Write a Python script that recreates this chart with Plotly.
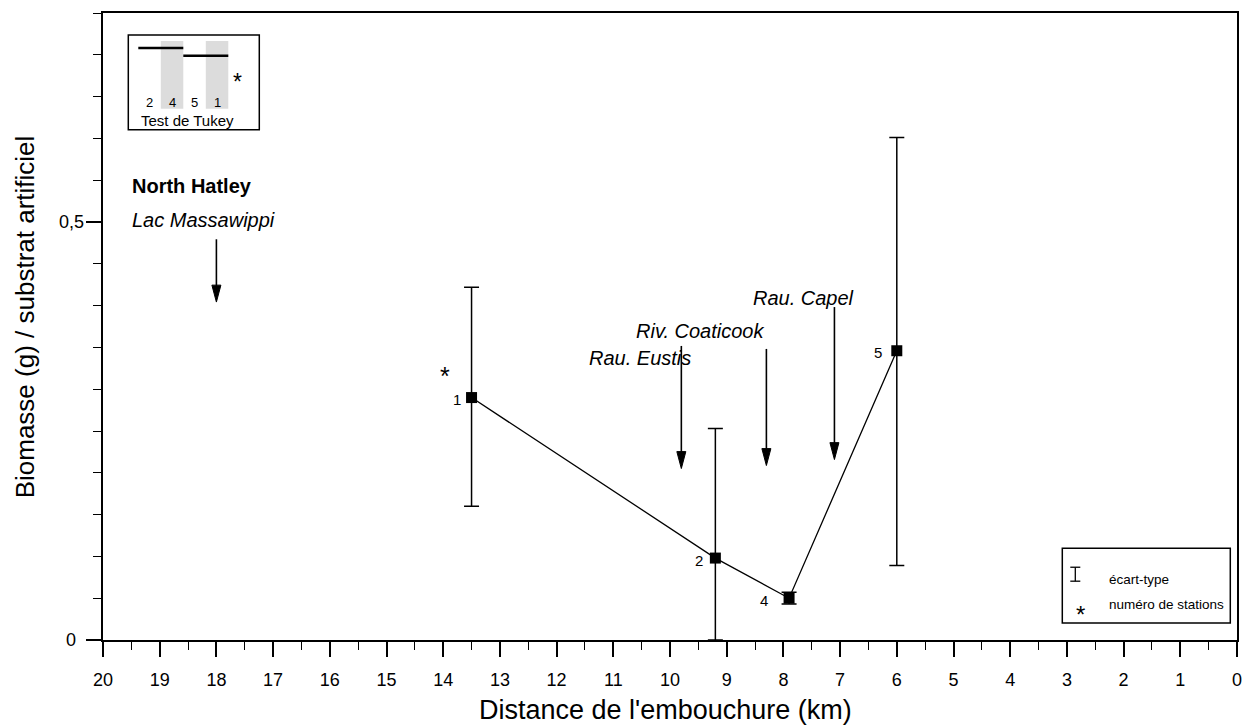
import plotly.graph_objects as go

# ---------------- data ----------------
stations = ["1", "2", "4", "5"]
distance_km = [13.5, 9.2, 7.9, 6.0]
biomass = [0.290, 0.098, 0.050, 0.346]
sd_plus = [0.132, 0.155, 0.007, 0.255]
sd_minus = [0.130, 0.098, 0.007, 0.257]

tributaries = ["Rau. Eustis", "Riv. Coaticook", "Rau. Capel"]
tributary_km = [9.8, 8.3, 7.1]
origin_km = 18.0

tukey_order = ["2", "4", "5", "1"]
tukey_groups = [["2", "4"], ["5", "1"]]

x_ticks = list(range(0, 21))
y_ticks = [0, 0.5]
y_ticktext = ["0", "0,5"]

# ---------------- layout helpers ----------------
W, H = 1254, 726
L, R, T, B = 102.7, 1236.7, 11.0, 640.0
FONT = "Liberation Sans, Arial, sans-serif"


def px(x):
    return (x - L) / (R - L)


def py(y):
    return (B - y) / (B - T)


fig = go.Figure()

fig.add_trace(go.Scatter(
    x=distance_km, y=biomass, mode="lines+markers",
    line=dict(color="black", width=1.3),
    marker=dict(symbol="square", size=11, color="black"),
    error_y=dict(type="data", array=sd_plus, arrayminus=sd_minus,
                 color="black", thickness=1.5, width=7.5),
    showlegend=False, cliponaxis=False,
))

shapes = []
annotations = []

# y tick labels (centred, as in the original)
for v, t in zip(y_ticks, y_ticktext):
    annotations.append(dict(x=px(71), y=v, xref="paper", yref="y", text=t, showarrow=False,
                            xanchor="center", yanchor="middle",
                            font=dict(family=FONT, size=18, color="black")))

# station labels
label_dx = {"1": -9, "2": -10, "4": -19, "5": -13}
for s, xk, yv in zip(stations, distance_km, biomass):
    annotations.append(dict(x=xk, y=yv, xref="x", yref="y", text=s, showarrow=False,
                            xanchor="right", yanchor="middle", xshift=label_dx[s], yshift=-2,
                            font=dict(family=FONT, size=15, color="black")))

# star near station 1
annotations.append(dict(x=distance_km[0], y=biomass[0], xref="x", yref="y", text="*",
                        showarrow=False, xshift=-27, yshift=22,
                        font=dict(family=FONT, size=25, color="black")))


def arrow(xk, y_tail, y_tip):
    hw = 4.5 / ((R - L) / 20.0)
    head = 17
    shapes.append(dict(type="line", xref="x", yref="paper", x0=xk, x1=xk,
                       y0=py(y_tail), y1=py(y_tip - head + 2),
                       line=dict(color="black", width=1.6)))
    shapes.append(dict(type="path", xref="x", yref="paper",
                       path=f"M {xk - hw},{py(y_tip - head)} L {xk + hw},{py(y_tip - head)} L {xk},{py(y_tip)} Z",
                       fillcolor="black", line=dict(color="black", width=1)))


# North Hatley / Lac Massawippi
annotations.append(dict(x=px(130), y=py(185), xref="paper", yref="paper", text="<b>North Hatley</b>",
                        showarrow=False, xanchor="left", yanchor="middle",
                        font=dict(family=FONT, size=20, color="black")))
annotations.append(dict(x=px(130), y=py(219), xref="paper", yref="paper", text="<i>Lac Massawippi</i>",
                        showarrow=False, xanchor="left", yanchor="middle",
                        font=dict(family=FONT, size=20, color="black")))
arrow(origin_km, 238, 301)

# tributaries
trib_text_pos = [(640, 357), (700, 330), (803, 297)]
trib_arrow_y = [(345, 468), (348, 465), (306, 459)]
for name, xk, (tx, ty), (a0, a1) in zip(tributaries, tributary_km, trib_text_pos, trib_arrow_y):
    annotations.append(dict(x=px(tx), y=py(ty), xref="paper", yref="paper", text=f"<i>{name}</i>",
                            showarrow=False, xanchor="center", yanchor="middle",
                            font=dict(family=FONT, size=20, color="black")))
    arrow(xk, a0, a1)

# ---------------- Tukey inset ----------------
shapes.append(dict(type="rect", xref="paper", yref="paper", x0=px(128), x1=px(259), y0=py(128), y1=py(33),
                   line=dict(color="black", width=1.5), fillcolor="white", layer="below"))
col_w = 22.5
col_left0 = 138.0
for i, lab in enumerate(tukey_order):
    cl = col_left0 + i * col_w
    if i % 2 == 1:
        shapes.append(dict(type="rect", xref="paper", yref="paper", x0=px(cl), x1=px(cl + col_w),
                           y0=py(107), y1=py(39), line=dict(width=0), fillcolor="#dcdcdc", layer="below"))
    annotations.append(dict(x=px(cl + col_w / 2), y=py(101), xref="paper", yref="paper", text=lab,
                            showarrow=False, xanchor="center", yanchor="middle",
                            font=dict(family=FONT, size=13, color="black")))
for g, grp in enumerate(tukey_groups):
    i0 = tukey_order.index(grp[0])
    i1 = tukey_order.index(grp[-1])
    yl = 46 + 8 * g
    shapes.append(dict(type="line", xref="paper", yref="paper",
                       x0=px(col_left0 + i0 * col_w), x1=px(col_left0 + (i1 + 1) * col_w),
                       y0=py(yl), y1=py(yl), line=dict(color="black", width=2.5)))
annotations.append(dict(x=px(237), y=py(80), xref="paper", yref="paper", text="*", showarrow=False,
                        xanchor="center", yanchor="middle", font=dict(family=FONT, size=23, color="black")))
annotations.append(dict(x=px(187), y=py(119), xref="paper", yref="paper", text="Test de Tukey",
                        showarrow=False, xanchor="center", yanchor="middle",
                        font=dict(family=FONT, size=15, color="black")))

# ---------------- legend box ----------------
shapes.append(dict(type="rect", xref="paper", yref="paper", x0=px(1062), x1=px(1230), y0=py(623), y1=py(548),
                   line=dict(color="black", width=1.5), fillcolor="white", layer="below"))
shapes.append(dict(type="line", xref="paper", yref="paper", x0=px(1075), x1=px(1075), y0=py(581), y1=py(567),
                   line=dict(color="black", width=1.3)))
for yy in (567, 581):
    shapes.append(dict(type="line", xref="paper", yref="paper", x0=px(1070), x1=px(1080), y0=py(yy), y1=py(yy),
                       line=dict(color="black", width=1.3)))
annotations.append(dict(x=px(1107), y=py(579), xref="paper", yref="paper", text="écart-type",
                        showarrow=False, xanchor="left", yanchor="middle",
                        font=dict(family=FONT, size=13.5, color="black")))
annotations.append(dict(x=px(1080), y=py(614), xref="paper", yref="paper", text="*",
                        showarrow=False, xanchor="center", yanchor="middle",
                        font=dict(family=FONT, size=24, color="black")))
annotations.append(dict(x=px(1107), y=py(604), xref="paper", yref="paper", text="numéro de stations",
                        showarrow=False, xanchor="left", yanchor="middle",
                        font=dict(family=FONT, size=13.5, color="black")))

# ---------------- axis titles ----------------
annotations.append(dict(x=px(665), y=py(710), xref="paper", yref="paper", text="Distance de l'embouchure (km)",
                        showarrow=False, xanchor="center", yanchor="middle",
                        font=dict(family=FONT, size=27, color="black")))
annotations.append(dict(x=px(25), y=py(316), xref="paper", yref="paper", text="Biomasse (g) / substrat artificiel",
                        showarrow=False, xanchor="center", yanchor="middle", textangle=-90,
                        font=dict(family=FONT, size=26, color="black")))

fig.update_layout(
    width=W, height=H,
    margin=dict(l=L, r=W - R, t=T, b=H - B),
    paper_bgcolor="white", plot_bgcolor="white",
    font=dict(family=FONT, size=18, color="black"),
    shapes=shapes, annotations=annotations,
    showlegend=False,
    xaxis=dict(range=[20, 0], tickvals=x_ticks, ticktext=[str(v) for v in x_ticks],
               ticks="outside", ticklen=15, tickwidth=1.5, tickcolor="black",
               minor=dict(dtick=0.5, tick0=0, ticks="outside", ticklen=8, tickwidth=1.3, tickcolor="black"),
               showline=True, mirror=True, linecolor="black", linewidth=1.5,
               showgrid=False, zeroline=False, ticklabelstandoff=8,
               tickfont=dict(family=FONT, size=18, color="black")),
    yaxis=dict(range=[0, 0.75], tickvals=y_ticks, showticklabels=False,
               ticks="outside", ticklen=15, tickwidth=1.5, tickcolor="black",
               minor=dict(dtick=0.05, tick0=0, ticks="outside", ticklen=8, tickwidth=1.3, tickcolor="black"),
               showline=True, mirror=True, linecolor="black", linewidth=1.5,
               showgrid=False, zeroline=False),
)

fig.write_html("out.html")
